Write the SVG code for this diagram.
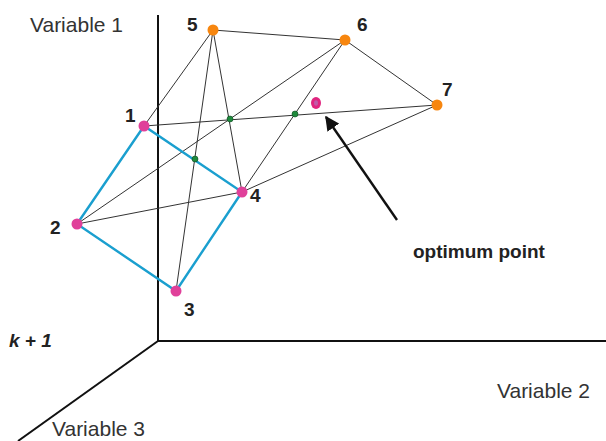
<svg xmlns="http://www.w3.org/2000/svg" width="606" height="441" viewBox="0 0 606 441">
<defs>
<style>
.axis{stroke:#111;stroke-width:2;fill:none}
.edge{stroke:#333;stroke-width:1;fill:none}
.blue{stroke:#1a9fcf;stroke-width:2.4;fill:none}
.pink{fill:#e0409a}
.orange{fill:#f7860f}
.green{fill:#1e8a3c;stroke:#0c4a1e;stroke-width:0.6}
.num{font-family:"Liberation Sans",Arial,sans-serif;font-size:19px;font-weight:bold;fill:#222}
.lbl{font-family:"Liberation Sans",Arial,sans-serif;font-size:21px;fill:#333}
</style>
<marker id="ah" viewBox="0 0 10 10" refX="9" refY="5" markerWidth="6" markerHeight="6" orient="auto" markerUnits="strokeWidth">
<path d="M0,0 L10,5 L0,10 z" fill="#111"/>
</marker>
</defs>
<rect width="606" height="441" fill="#fff"/>
<g id="axes">
<line class="axis" x1="158" y1="15" x2="158" y2="341"/>
<line class="axis" x1="158" y1="341" x2="606" y2="341"/>
<line class="axis" x1="158" y1="341" x2="18" y2="441"/>
<text class="lbl" x="30" y="32">Variable 1</text>
<text class="lbl" x="497" y="398">Variable 2</text>
<text class="lbl" x="52" y="436">Variable 3</text>
<text class="num" x="9" y="347" font-style="italic" font-size="18">k + 1</text>
</g>
<g id="connectors">
<line class="edge" x1="144" y1="126" x2="213" y2="30"/>
<line class="edge" x1="213" y1="30" x2="345" y2="40"/>
<line class="edge" x1="345" y1="40" x2="437" y2="105"/>
<line class="edge" x1="213" y1="30" x2="176" y2="291"/>
<line class="edge" x1="213" y1="30" x2="242" y2="192"/>
<line class="edge" x1="345" y1="40" x2="77" y2="224"/>
<line class="edge" x1="345" y1="40" x2="242" y2="192"/>
<line class="edge" x1="144" y1="126" x2="437" y2="105"/>
<line class="edge" x1="77" y1="224" x2="242" y2="192"/>
<line class="edge" x1="242" y1="192" x2="437" y2="105"/>
<polygon class="blue" points="144,126 77,224 176,291 242,192"/>
<line x1="397" y1="220" x2="326" y2="117" stroke="#111" stroke-width="2.4" marker-end="url(#ah)"/>
</g>
<g id="n1"><circle class="pink" cx="144" cy="126" r="5.5"/><text class="num" x="125" y="122">1</text></g>
<g id="n2"><circle class="pink" cx="77" cy="224" r="5.5"/><text class="num" x="50" y="234">2</text></g>
<g id="n3"><circle class="pink" cx="176" cy="291" r="5.5"/><text class="num" x="184" y="316">3</text></g>
<g id="n4"><circle class="pink" cx="242" cy="192" r="5.5"/><text class="num" x="250" y="202">4</text></g>
<g id="n5"><circle class="orange" cx="213" cy="30" r="5.5"/><text class="num" x="187" y="31">5</text></g>
<g id="n6"><circle class="orange" cx="345" cy="40" r="5.5"/><text class="num" x="357" y="31">6</text></g>
<g id="n7"><circle class="orange" cx="437" cy="105" r="5.5"/><text class="num" x="442" y="96">7</text></g>
<g id="g1"><circle class="green" cx="230" cy="119" r="3"/></g>
<g id="g2"><circle class="green" cx="295" cy="114" r="3"/></g>
<g id="g3"><circle class="green" cx="195" cy="159" r="3"/></g>
<g id="optimum">
<ellipse cx="316" cy="103" rx="5" ry="6" fill="#e0257f"/>
<ellipse cx="316" cy="103" rx="2" ry="2.8" fill="#c05aa8"/>
<text class="num" x="413" y="258">optimum point</text>
</g>
</svg>
